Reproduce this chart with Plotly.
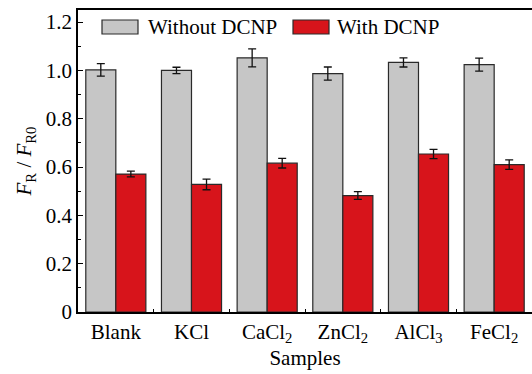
import plotly.graph_objects as go

categories = ["Blank", "KCl", "CaCl<sub>2</sub>", "ZnCl<sub>2</sub>", "AlCl<sub>3</sub>", "FeCl<sub>2</sub>"]
without_vals = [1.002, 1.000, 1.052, 0.987, 1.033, 1.024]
without_err = [0.026, 0.013, 0.037, 0.027, 0.019, 0.027]
with_vals = [0.571, 0.528, 0.616, 0.482, 0.654, 0.610]
with_err = [0.012, 0.022, 0.020, 0.016, 0.019, 0.020]
series_names = ["Without DCNP", "With DCNP"]
ytick_vals = [0, 0.2, 0.4, 0.6, 0.8, 1.0, 1.2]
ytick_text = ["0", "0.2", "0.4", "0.6", "0.8", "1.0", "1.2"]

GRAY = "#c6c6c6"
RED = "#d7141b"
EDGE = "#2a2a2a"
FONT = "Liberation Serif, Times New Roman, serif"
FS = 21

W, H = 532, 374
ML, MR, MT, MB = 78, 0, 10, 62

fig = go.Figure()
fig.add_trace(go.Bar(
    x=categories, y=without_vals, name=series_names[0],
    marker=dict(color=GRAY, line=dict(color=EDGE, width=1.2)),
    error_y=dict(type="data", array=without_err, color="#111", thickness=1.3, width=4),
    showlegend=False,
))
fig.add_trace(go.Bar(
    x=categories, y=with_vals, name=series_names[1],
    marker=dict(color=RED, line=dict(color=EDGE, width=1.2)),
    error_y=dict(type="data", array=with_err, color="#111", thickness=1.3, width=4),
    showlegend=False,
))

pw = W - ML - MR
ph = H - MT - MB
def px2x(p):
    return (p - ML) / pw
def px2y(p):
    return (H - MB - p) / ph

# manual legend (wide swatches like the reference)
legend_items = [(102, 138, 146, GRAY, series_names[0]), (293, 329, 335, RED, series_names[1])]
for x0, x1, tx, col, label in legend_items:
    fig.add_shape(type="rect", xref="paper", yref="paper",
                  x0=px2x(x0), x1=px2x(x1), y0=px2y(34), y1=px2y(20),
                  fillcolor=col, line=dict(color=EDGE, width=1.2))
    fig.add_annotation(xref="paper", yref="paper", x=px2x(tx), y=px2y(27),
                       text=label, showarrow=False, xanchor="left", yanchor="middle",
                       font=dict(family=FONT, size=FS, color="black"))

fig.update_layout(
    width=W, height=H,
    margin=dict(l=ML, r=MR, t=MT, b=MB, autoexpand=False),
    barmode="group", bargap=0.206, bargroupgap=0,
    plot_bgcolor="white", paper_bgcolor="white",
    font=dict(family=FONT, size=FS, color="black"),
    xaxis=dict(
        automargin=False,
        showline=True, linecolor="black", linewidth=1.5, mirror=True,
        ticks="inside", tickson="boundaries", ticklen=3, tickcolor="black",
        title=dict(text="Samples", standoff=4, font=dict(family=FONT, size=FS)),
        tickfont=dict(family=FONT, size=FS),
    ),
    yaxis=dict(
        automargin=False,
        range=[0, 1.25],
        showline=True, linecolor="black", linewidth=1.5, mirror=True,
        showgrid=False, zeroline=False,
        tickvals=ytick_vals, ticktext=ytick_text,
        ticks="inside", ticklen=5, tickcolor="black",
        minor=dict(dtick=0.1, ticks="inside", ticklen=3, tickcolor="black", showgrid=False),
        tickfont=dict(family=FONT, size=FS),
        title=dict(text="<i>F</i><sub>R</sub> / <i>F</i><sub>R0</sub>", standoff=8, font=dict(family=FONT, size=FS)),
    ),
)

fig.write_html("out.html", config={"displayModeBar": False},
               post_script="document.body.style.margin='0';document.body.style.overflow='hidden';")
